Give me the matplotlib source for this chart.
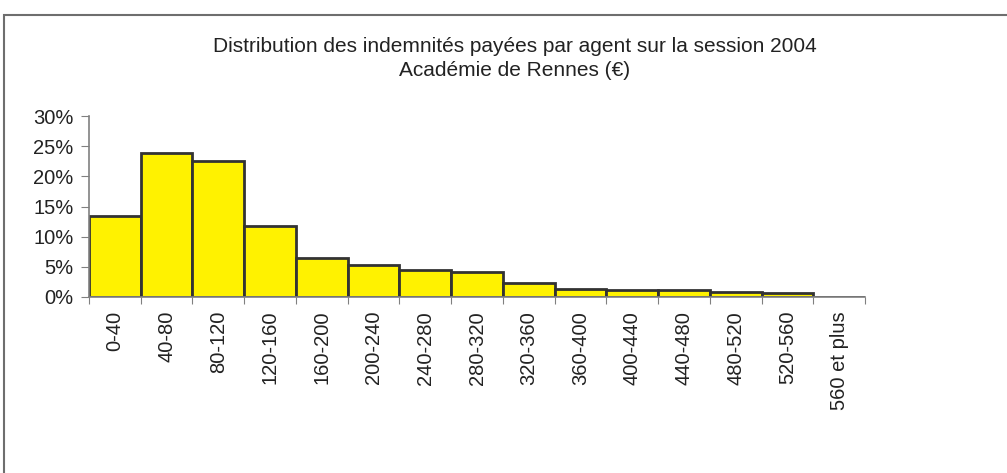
import numpy as np
import matplotlib
matplotlib.use('Agg')
from matplotlib import pyplot as plt
from matplotlib.patches import Rectangle
from matplotlib.ticker import FixedLocator, PercentFormatter

plt.rcParams['font.family'] = ['Liberation Sans', 'DejaVu Sans']

# Data
classes = ['0-40', '40-80', '80-120', '120-160', '160-200', '200-240', '240-280',
           '280-320', '320-360', '360-400', '400-440', '440-480', '480-520',
           '520-560', '560 et plus']
shares = [13.5, 23.9, 22.5, 11.8, 6.4, 5.35, 4.5, 4.15, 2.4, 1.3, 1.1, 1.1, 0.8, 0.65, 0.0]

W, H = 1007, 473
fig = plt.figure(figsize=(W / 100, H / 100), dpi=100)

# outer frame (cut off on the right and bottom as in the reference)
fig.patches.append(Rectangle((4 / W, -0.1), 1.2, 1 - 15 / H + 0.1, transform=fig.transFigure,
                             fill=False, edgecolor='#6e6e6e', linewidth=1.5))

ax = fig.add_axes([89 / W, 1 - 297 / H, (865 - 89) / W, (297 - 116) / H])
x = np.arange(len(classes))
ax.bar(x, shares, width=1.0, color='#fff200', edgecolor='#333333', linewidth=2)

ax.set_xlim(-0.5, len(classes) - 0.5)
ax.set_ylim(0, 30)
ax.set_yticks(np.arange(0, 31, 5))
ax.yaxis.set_major_formatter(PercentFormatter(decimals=0))

ax.xaxis.set_major_locator(FixedLocator(np.arange(-0.5, len(classes) + 0.5, 1)))
ax.set_xticklabels([])
ax.set_xticks(x, minor=True)
ax.set_xticklabels(classes, minor=True, rotation=90, fontsize=14.5, color='#222222')
ax.tick_params(axis='x', which='minor', length=0, pad=10)
ax.tick_params(axis='x', which='major', length=5, color='#808080', direction='out')
ax.tick_params(axis='y', length=6, color='#808080', labelsize=14.5, labelcolor='#222222', pad=5)

for s in ['top', 'right']:
    ax.spines[s].set_visible(False)
for s in ['left', 'bottom']:
    ax.spines[s].set_color('#808080')
    ax.spines[s].set_linewidth(1.2)

fig.text(515 / W, 1 - 46 / H, 'Distribution des indemnités payées par agent sur la session 2004',
         ha='center', va='center', fontsize=15, color='#222222')
fig.text(515 / W, 1 - 71 / H, 'Académie de Rennes (€)',
         ha='center', va='center', fontsize=15, color='#222222')

fig.savefig('out.png', dpi=100)
